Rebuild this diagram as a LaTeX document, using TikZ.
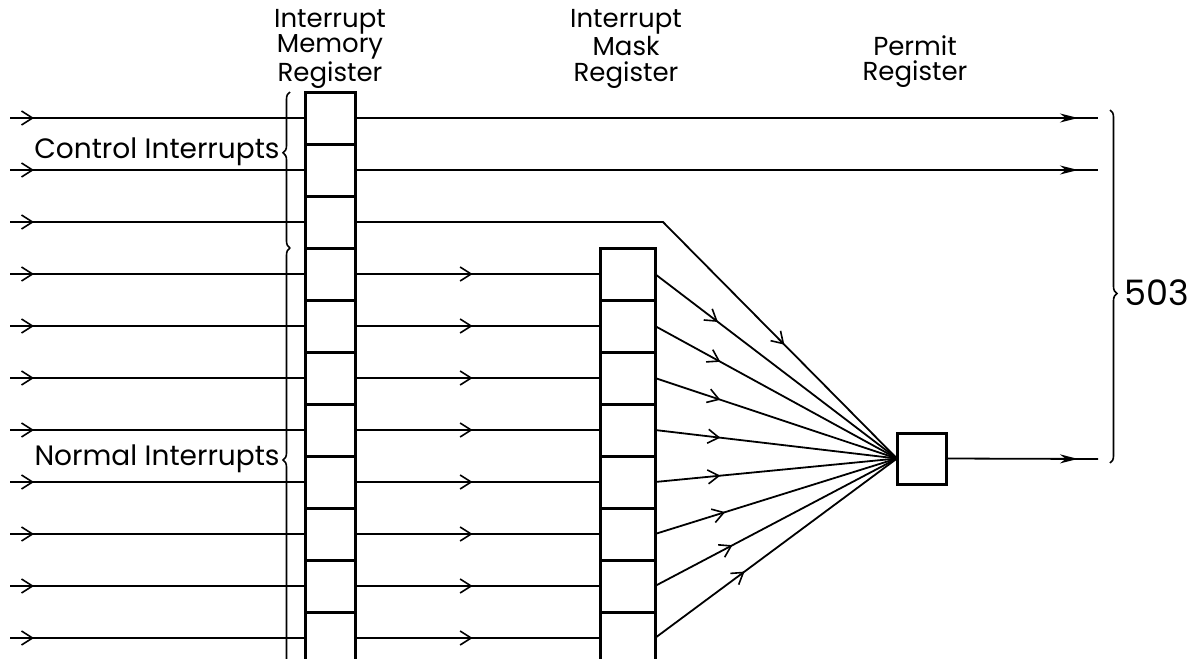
\documentclass[tikz,border=0pt]{standalone}
\usepackage{fontspec}
\setmainfont{Poppins}
\usetikzlibrary{arrows.meta,decorations.markings,decorations.pathreplacing}

\begin{document}
\begin{tikzpicture}[x=0.5pt, y=-0.5pt,
        wire/.style = {line width=0.9pt},
        cell/.style = {draw, line width=1.5pt, inner sep=0pt, outer sep=0pt,
            minimum width=25pt, minimum height=26pt},
        lbl/.style = {font=\fontsize{14}{12}\selectfont, align=center, inner sep=1pt},
        ttl/.style = {font=\fontsize{13}{12.6}\selectfont, align=center, inner sep=1pt},
        barbat/.style = {postaction={decorate}, decoration={markings,
            mark=at position #1 with {\arrow{Straight Barb[length=5.5pt, width=7pt, line width=0.8pt]}}}},
        tipat/.style = {postaction={decorate}, decoration={markings,
            mark=at position #1 with {\arrow{Stealth[length=9pt, width=4.5pt]}}}},
        brc/.style = {draw, decorate, line width=0.8pt,
            decoration={brace, amplitude=3.5pt, aspect=#1}}]
    \useasboundingbox (0,0) rectangle (1195,659);
    \clip (0,0) rectangle (1195,659);

    % registers
    \foreach \i in {1,...,11}
        \node[cell] (m\i) at (330,66+52*\i) {};
    \foreach \j in {1,...,8}
        \node[cell, minimum width=27.5pt] (k\j) at (627.5,66+52*\j+156) {};
    \node[cell, minimum width=24.5pt, minimum height=25.5pt] (p) at (921.5,458.5) {};

    % titles
    \node[ttl] (tm) at (330,49) {Interrupt\\Memory\\Register};
    \node[ttl] (tk) at (626,49) {Interrupt\\Mask\\Register};
    \node[ttl] (tp) at (915,62) {Permit\\Register};

    % inputs
    \foreach \i in {1,...,11} {
        \coordinate (in\i) at (10,66+52*\i);
        \draw[wire, barbat=12pt] (in\i) -- (m\i.west);
    }

    % control interrupts straight through
    \coordinate (o1) at (1098,118);
    \coordinate (o2) at (1098,170);
    \draw[wire, tipat=-10pt] (m1.east) -- (o1);
    \draw[wire, tipat=-10pt] (m2.east) -- (o2);
    \coordinate (bend) at (663,222);
    \draw[wire, barbat=0.75] (m3.east) -- (bend) -- (p.west);

    % memory -> mask
    \foreach \j in {1,...,8} {
        \pgfmathtruncatemacro\i{\j+3}
        \draw[wire, barbat=0.48] (m\i.east) -- (k\j.west);
    }
    % mask -> permit
    \foreach \j/\q in {1/0.26,2/0.27,3/0.27,4/0.27,5/0.27,6/0.29,7/0.32,8/0.37}
        \draw[wire, barbat=\q] (k\j.east) -- (p.west);

    \coordinate (o3) at (1098,459);
    \draw[wire, tipat=-10pt] (p.east) -- (o3);

    % braces
    \draw[brc=0.61] (290,248) -- (290,92);
    \node[lbl, anchor=east] (ctl) at (282,152) {Control Interrupts};
    \draw[brc=0.5] (290,672) -- (290,248);
    \node[lbl, anchor=east] (nrm) at (282,459) {Normal Interrupts};
    \draw[brc=0.52] (1110,110) -- (1110,463);
    \node[lbl, anchor=west, font=\fontsize{17.5}{17.5}\selectfont] (tot) at (1122,293) {503};
\end{tikzpicture}
\end{document}
